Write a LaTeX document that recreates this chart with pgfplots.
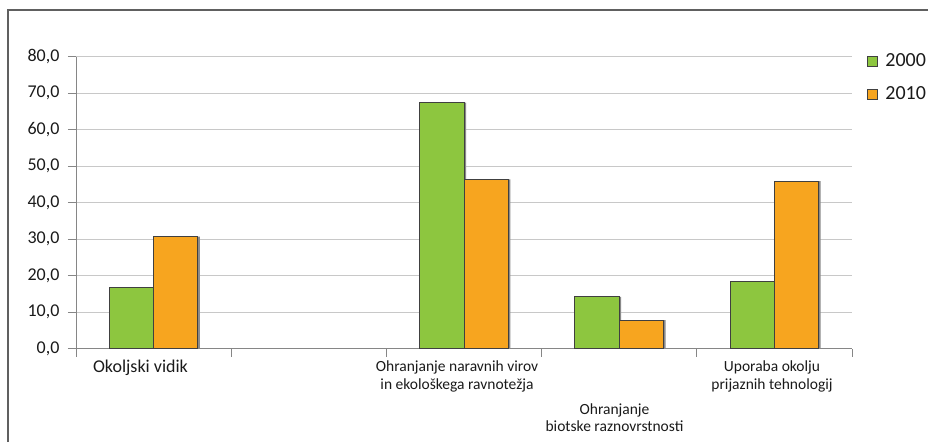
\documentclass[border=0pt]{standalone}
\usepackage{pgfplots}
\pgfplotsset{compat=1.18}
\usepackage{fontspec}
\setmainfont{Carlito}
\definecolor{cgreen}{HTML}{8DC63F}
\definecolor{corange}{HTML}{F7A51F}
\definecolor{axgray}{HTML}{868686}
\definecolor{gridgray}{HTML}{C8C8C8}
\definecolor{edge}{HTML}{404040}
\definecolor{framegray}{HTML}{606060}
\definecolor{shadowgray}{HTML}{8A8A8A}
\definecolor{txt}{HTML}{1A1A1A}
\begin{document}
\begin{tikzpicture}[x=1pt,y=1pt]
\begin{axis}[
  at={(76pt,93.3pt)}, anchor=south west,
  scale only axis, width=776pt, height=292pt,
  xmin=-0.5, xmax=4.5, ymin=0, ymax=80,
  ybar, bar width=44.3pt,
  axis x line*=bottom, axis y line*=left,
  axis line style={axgray, line width=1pt},
  xtick={-0.5,0.5,1.5,2.5,3.5,4.5}, xticklabels={},
  ytick={0,10,...,80},
  ymajorgrids, grid style={gridgray, line width=0.9pt},
  tick align=outside, major tick length=8pt,
  tick style={axgray, line width=1pt},
  /pgf/number format/assume math mode=true,
  yticklabel style={font=\fontsize{18}{20}\selectfont, text=txt, xshift=-5pt, /pgf/number format/fixed, /pgf/number format/fixed zerofill, /pgf/number format/precision=1, /pgf/number format/use comma},
  legend image code/.code={\draw[#1, line width=0.8pt] (0pt,-5pt) rectangle (10pt,5pt);},
  legend style={at={(axis description cs:1.019,1.016)}, anchor=north west, draw=none, fill=none,
    font=\fontsize{20}{22}\selectfont, text=txt, inner sep=0pt, row sep=15pt,
    nodes={inner sep=0pt, text height=14pt, text depth=4pt},
    /tikz/every odd column/.append style={column sep=7.7pt}},
  legend cell align=left,
]
\addplot[fill=shadowgray, draw=none, bar shift=-20.15pt, forget plot] coordinates {(0,16.7) (2,67.4) (3,14.2) (4,18.3)};
\addplot[fill=shadowgray, draw=none, bar shift=24.15pt, forget plot] coordinates {(0,30.7) (2,46.4) (3,7.8) (4,45.9)};
\addplot[fill=cgreen, draw=edge, line width=0.9pt, bar shift=-22.15pt] coordinates {(0,16.7) (2,67.4) (3,14.2) (4,18.3)};
\addplot[fill=corange, draw=edge, line width=0.9pt, bar shift=22.15pt] coordinates {(0,30.7) (2,46.4) (3,7.8) (4,45.9)};
\legend{2000,2010}
\end{axis}
\node[font=\fontsize{18}{20}\selectfont, text=txt] at (140.5,74.3) {Okoljski vidik};
\node[align=center, font=\fontsize{15.5}{17.5}\selectfont, text=txt] at (457,65.6) {Ohranjanje naravnih virov\\in ekološkega ravnotežja};
\node[align=center, font=\fontsize{15.5}{17.5}\selectfont, text=txt] at (614.5,24.5) {Ohranjanje\\biotske raznovrstnosti};
\node[align=center, font=\fontsize{15.5}{17.5}\selectfont, text=txt] at (772,65.6) {Uporaba okolju\\prijaznih tehnologij};
\draw[framegray, line width=1.2pt] (8,0) -- (8,432) -- (928,432);
\pgfresetboundingbox
\path (0,0) rectangle (928,442);
\end{tikzpicture}
\end{document}
